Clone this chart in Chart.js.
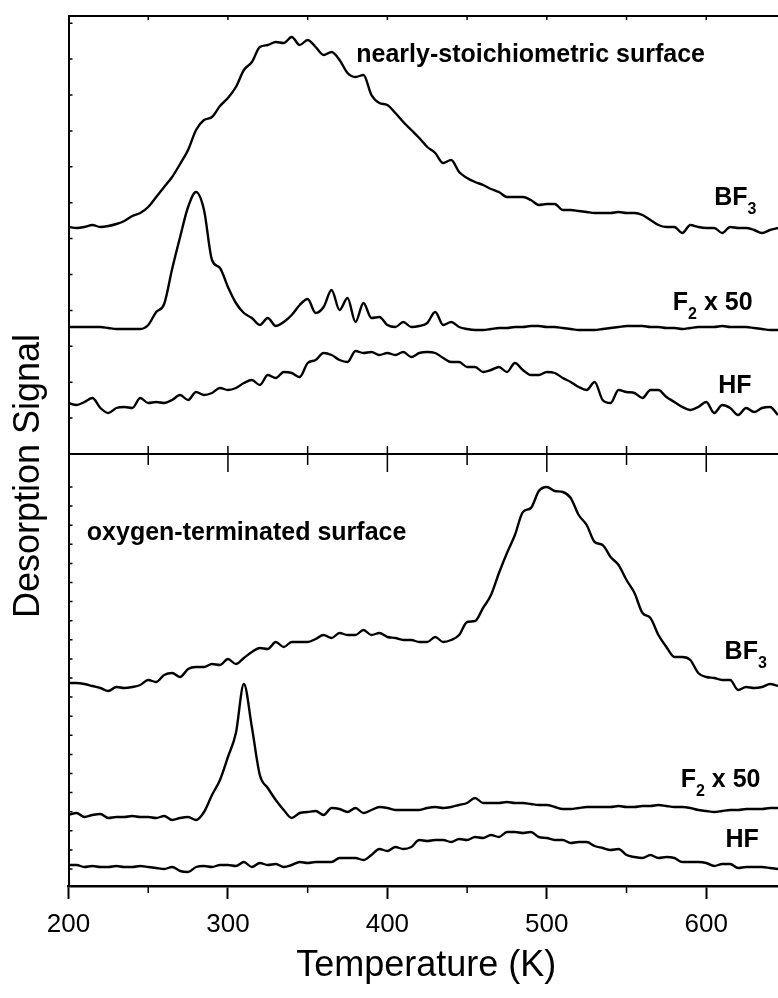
<!DOCTYPE html>
<html>
<head>
<meta charset="utf-8">
<script src="https://cdn.jsdelivr.net/npm/chart.js@4/dist/chart.umd.min.js"></script>
<style>
body { margin: 0; background: #fff; }
#wrap { width: 778px; height: 998px; }
</style>
</head>
<body>
<div id="wrap"><canvas id="tpd"></canvas></div>
<script>
// temperature grid (K)
var temps = [
  200, 205, 210, 215, 220, 225, 230, 235, 240, 245,
  250, 255, 260, 265, 270, 275, 280, 285, 290, 295,
  300, 305, 310, 315, 320, 325, 330, 335, 340, 345,
  350, 355, 360, 365, 370, 375, 380, 385, 390, 395,
  400, 405, 410, 415, 420, 425, 430, 435, 440, 445,
  450, 455, 460, 465, 470, 475, 480, 485, 490, 495,
  500, 505, 510, 515, 520, 525, 530, 535, 540, 545,
  550, 555, 560, 565, 570, 575, 580, 585, 590, 595,
  600, 605, 610, 615, 620, 625, 630, 635, 640, 645
];

// nearly-stoichiometric surface (offset traces, arb. units)
var topBF3 = [
  227, 226, 227, 229, 227, 228, 230, 233, 238, 241,
  247, 257, 267, 277, 290, 304, 324, 334, 337, 348,
  356, 367, 384, 392, 407, 409, 412, 411, 417, 409,
  414, 407, 399, 402, 394, 381, 377, 379, 359, 351,
  349, 341, 332, 324, 316, 307, 301, 291, 294, 282,
  276, 272, 269, 265, 262, 257, 257, 257, 254, 249,
  250, 250, 244, 244, 243, 242, 241, 241, 241, 242,
  241, 241, 239, 234, 229, 227, 227, 221, 229, 227,
  226, 226, 221, 227, 226, 226, 224, 221, 224, 226
];
var topF2 = [
  127, 127, 127, 127, 127, 126, 125, 125, 125, 125,
  129, 142, 150, 185, 217, 247, 262, 244, 194, 186,
  167, 151, 141, 136, 129, 136, 128, 132, 139, 149,
  155, 141, 147, 164, 144, 156, 132, 151, 136, 137,
  129, 127, 132, 127, 128, 131, 142, 129, 132, 127,
  125, 124, 124, 125, 126, 126, 127, 127, 128, 128,
  127, 127, 126, 125, 124, 124, 124, 125, 126, 127,
  128, 128, 128, 127, 127, 126, 126, 125, 126, 127,
  127, 127, 128, 127, 127, 127, 126, 125, 124, 124
];
var topHF = [
  51, 49, 52, 56, 46, 41, 46, 47, 46, 56,
  51, 52, 51, 54, 59, 54, 62, 59, 61, 66,
  64, 66, 71, 74, 69, 79, 76, 82, 81, 77,
  91, 94, 101, 99, 94, 92, 103, 101, 102, 99,
  101, 99, 102, 97, 101, 102, 101, 96, 92, 92,
  87, 87, 82, 84, 87, 82, 91, 84, 79, 79,
  82, 81, 76, 72, 67, 64, 72, 54, 51, 64,
  62, 61, 56, 64, 64, 57, 52, 47, 44, 47,
  52, 41, 49, 46, 39, 46, 42, 46, 47, 39
];

// oxygen-terminated surface
var botBF3 = [
  203, 203, 202, 200, 198, 195, 199, 198, 199, 201,
  206, 204, 211, 213, 209, 217, 219, 219, 222, 221,
  227, 222, 228, 234, 238, 237, 244, 239, 244, 244,
  244, 247, 251, 248, 253, 251, 251, 256, 251, 253,
  249, 248, 246, 246, 244, 244, 249, 244, 246, 251,
  264, 265, 278, 291, 313, 333, 351, 374, 378, 395,
  399, 395, 394, 388, 371, 361, 344, 341, 329, 321,
  306, 293, 273, 268, 251, 239, 229, 229, 226, 213,
  209, 208, 206, 206, 196, 199, 198, 199, 202, 200
];
var botF2 = [
  71, 73, 69, 71, 72, 68, 69, 69, 70, 69,
  69, 68, 70, 66, 68, 69, 66, 74, 91, 106,
  129, 153, 202, 159, 111, 98, 86, 76, 68, 73,
  74, 75, 71, 78, 77, 74, 78, 73, 76, 79,
  78, 76, 76, 76, 76, 78, 79, 78, 79, 81,
  83, 88, 83, 83, 83, 84, 83, 83, 82, 81,
  81, 79, 77, 77, 78, 79, 79, 79, 79, 80,
  79, 79, 80, 80, 81, 80, 79, 79, 78, 76,
  75, 74, 75, 76, 76, 77, 77, 77, 78, 78
];
var botHF = [
  21, 21, 19, 20, 19, 19, 20, 19, 19, 20,
  19, 18, 17, 19, 15, 14, 19, 20, 19, 21,
  21, 20, 24, 19, 23, 21, 22, 19, 21, 24,
  23, 24, 24, 24, 28, 28, 28, 26, 31, 37,
  35, 39, 37, 39, 46, 45, 46, 46, 44, 47,
  46, 49, 48, 51, 49, 54, 54, 53, 54, 49,
  48, 46, 46, 43, 44, 44, 40, 38, 36, 37,
  31, 29, 28, 31, 28, 29, 28, 24, 24, 24,
  23, 20, 22, 22, 18, 19, 19, 19, 18, 17
];

var xTicks = [200, 300, 400, 500, 600];

var FONT = '"Liberation Sans", Arial, Helvetica, sans-serif';

function pts(arr) {
  return temps.map(function (t, i) { return { x: t, y: arr[i] }; });
}

function trace(arr, axis) {
  return {
    data: pts(arr),
    yAxisID: axis,
    borderColor: '#000',
    borderWidth: 2.4,
    pointRadius: 0,
    cubicInterpolationMode: 'monotone',
    fill: false
  };
}

// text labels: [panel axis, temperature, signal, pieces]
var notes = [
  ['yTop', 380.5, 399, [['nearly-stoichiometric surface', 0]]],
  ['yTop', 605, 256, [['BF', 0], ['3', 1]]],
  ['yTop', 579, 151, [['F', 0], ['2', 1], [' x 50', 0]]],
  ['yTop', 607.5, 68, [['HF', 0]]],
  ['yBot', 211.5, 353, [['oxygen-terminated surface', 0]]],
  ['yBot', 611.5, 234, [['BF', 0], ['3', 1]]],
  ['yBot', 584, 106, [['F', 0], ['2', 1], [' x 50', 0]]],
  ['yBot', 612, 46, [['HF', 0]]]
];

var framePlugin = {
  id: 'frame',
  afterDraw: function (chart) {
    var ctx = chart.ctx;
    var x = chart.scales.x, yT = chart.scales.yTop, yB = chart.scales.yBot;
    var L = chart.chartArea.left, R = chart.chartArea.right;
    var top = yT.top, mid = yT.bottom, bot = yB.bottom;
    ctx.save();
    ctx.strokeStyle = '#000';
    ctx.lineWidth = 2;
    ctx.beginPath();
    ctx.moveTo(L, top); ctx.lineTo(R, top);
    ctx.moveTo(L, mid); ctx.lineTo(R, mid);
    ctx.stroke();

    ctx.lineWidth = 1.5;
    ctx.beginPath();
    for (var t = 250; t <= 600; t += 50) {
      var px = x.getPixelForValue(t);
      var major = t % 100 === 0;
      ctx.moveTo(px, top); ctx.lineTo(px, top + 4);
      ctx.moveTo(px, mid); ctx.lineTo(px, mid - 8);
      ctx.moveTo(px, mid); ctx.lineTo(px, mid + (major ? 18 : 11));
      if (!major) { ctx.moveTo(px, bot); ctx.lineTo(px, bot + 7); }
    }
    // small ticks on the signal axis
    for (var v = 35.9; v < yT.max; v += 35.9) {
      var py = yT.getPixelForValue(v);
      ctx.moveTo(L, py); ctx.lineTo(L + 4, py);
    }
    for (var w = 17; w < yB.max - 30; w += 19.1) {
      var qy = yB.getPixelForValue(w);
      ctx.moveTo(L, qy); ctx.lineTo(L + 4, qy);
    }
    ctx.stroke();

    // axis titles
    ctx.fillStyle = '#000';
    ctx.textAlign = 'center';
    ctx.textBaseline = 'middle';
    ctx.font = '36px ' + FONT;
    ctx.fillText('Temperature (K)', (L + R) / 2 + 3, 966);
    ctx.save();
    ctx.translate(29, 476);
    ctx.rotate(-Math.PI / 2);
    ctx.fillText('Desorption Signal', 0, 0);
    ctx.restore();

    // curve labels
    ctx.textAlign = 'left';
    notes.forEach(function (n) {
      var sc = chart.scales[n[0]];
      var cx = x.getPixelForValue(n[1]);
      var cy = sc.getPixelForValue(n[2]);
      n[3].forEach(function (p) {
        ctx.font = p[1] ? 'bold 16px ' + FONT : 'bold 25px ' + FONT;
        ctx.fillText(p[0], cx, cy + (p[1] ? 12 : 0));
        cx += ctx.measureText(p[0]).width;
      });
    });
    ctx.restore();
  }
};

var ctx = document.getElementById('tpd');
var tpdChart = new Chart(ctx, {
  type: 'line',
  data: {
    datasets: [
      trace(topBF3, 'yTop'),
      trace(topF2, 'yTop'),
      trace(topHF, 'yTop'),
      trace(botBF3, 'yBot'),
      trace(botF2, 'yBot'),
      trace(botHF, 'yBot')
    ]
  },
  options: {
    responsive: true,
    maintainAspectRatio: false,
    animation: false,
    layout: { padding: { top: 16, right: 0, bottom: 0, left: 0 } },
    plugins: { legend: { display: false }, tooltip: { enabled: false } },
    scales: {
      x: {
        type: 'linear',
        position: 'bottom',
        min: 200,
        max: 645,
        afterBuildTicks: function (s) { s.ticks = xTicks.map(function (v) { return { value: v }; }); },
        afterFit: function (s) { s.height = 112; },
        ticks: { color: '#000', padding: 10, font: { family: FONT, size: 26 } },
        grid: { drawOnChartArea: false, drawTicks: true, tickLength: 13, tickWidth: 2, tickColor: '#000', color: '#000' },
        border: { display: true, color: '#000', width: 2.5 }
      },
      yBot: {
        type: 'linear',
        position: 'left',
        stack: 'panels',
        stackWeight: 432,
        min: 0,
        max: 432,
        afterFit: function (s) { s.width = 68.5; },
        ticks: { display: false },
        grid: { display: false },
        border: { display: true, color: '#000', width: 2 }
      },
      yTop: {
        type: 'linear',
        position: 'left',
        stack: 'panels',
        stackWeight: 438,
        min: 0,
        max: 438,
        afterFit: function (s) { s.width = 68.5; },
        ticks: { display: false },
        grid: { display: false },
        border: { display: true, color: '#000', width: 2 }
      }
    }
  },
  plugins: [framePlugin]
});
</script>
</body>
</html>
